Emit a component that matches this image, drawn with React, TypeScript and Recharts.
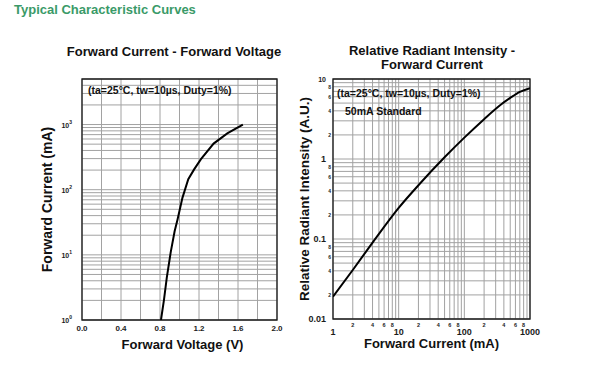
import { LineChart, Line, XAxis, YAxis, CartesianGrid, ReferenceArea } from 'recharts';

const FONT = '"Liberation Sans", Arial, Helvetica, sans-serif';

// Forward Current - Forward Voltage
const fvVoltage = [0.81, 0.84, 0.87, 0.91, 0.95, 0.98, 1.03, 1.09, 1.15, 1.22, 1.35, 1.49, 1.65];
const fvCurrent = [1, 2, 4.5, 11, 23, 35, 75, 145, 205, 295, 510, 730, 1000];
const fvXTicks = [0, 0.2, 0.4, 0.6, 0.8, 1.0, 1.2, 1.4, 1.6, 1.8, 2.0];
const fvYTicks = [
  1, 2, 3, 4, 5, 6, 7, 8, 9,
  10, 20, 30, 40, 50, 60, 70, 80, 90,
  100, 200, 300, 400, 500, 600, 700, 800, 900,
  1000, 2000, 3000, 4000, 5000,
];

// Relative Radiant Intensity - Forward Current
const riCurrent = [1, 2, 4, 10, 20, 50, 100, 200, 350, 500, 700, 1000];
const riIntensity = [0.019, 0.041, 0.09, 0.245, 0.47, 1.05, 1.85, 3.15, 4.7, 5.8, 6.9, 7.7];
const riXTicks = [
  1, 2, 3, 4, 5, 6, 7, 8, 9,
  10, 20, 30, 40, 50, 60, 70, 80, 90,
  100, 200, 300, 400, 500, 600, 700, 800, 900,
  1000,
];
const riYTicks = [
  0.01, 0.02, 0.03, 0.04, 0.05, 0.06, 0.07, 0.08, 0.09,
  0.1, 0.2, 0.3, 0.4, 0.5, 0.6, 0.7, 0.8, 0.9,
  1, 2, 3, 4, 5, 6, 7, 8, 9,
  10,
];

const fvData = fvVoltage.map((v, i) => ({ v, i: fvCurrent[i] }));
const riData = riCurrent.map((c, i) => ({ c, r: riIntensity[i] }));

const GRID = '#a2a2a2';
const INK = '#1b1b1b';

function mantissa(v: number) {
  const p = Math.pow(10, Math.floor(Math.log10(v) + 1e-9));
  return Math.round(v / p);
}

function FvXTick({ x, y, payload }: any) {
  const v = payload.value;
  const k = v / 0.4;
  if (Math.abs(k - Math.round(k)) > 1e-6) return <g />;
  return (
    <text x={x} y={y + 11} textAnchor="middle" fontSize={8} fontWeight="bold" fill={INK} fontFamily={FONT}>
      {v.toFixed(1)}
    </text>
  );
}

function FvYTick({ x, y, payload }: any) {
  const v = payload.value;
  if (mantissa(v) !== 1) return <g />;
  const exp = Math.round(Math.log10(v));
  return (
    <text x={x - 10} y={y + 3} textAnchor="end" fontSize={7} fontWeight="bold" fill={INK} fontFamily={FONT}>
      10
      <tspan dy={-4} fontSize={5}>{exp}</tspan>
    </text>
  );
}

function RiXTick({ x, y, payload }: any) {
  const v = payload.value;
  const m = mantissa(v);
  if (m === 1) {
    return (
      <text x={x} y={y + 16} textAnchor="middle" fontSize={9} fontWeight="bold" fill={INK} fontFamily={FONT}>
        {v}
      </text>
    );
  }
  if (m % 2 !== 0) return <g />;
  return (
    <text x={x} y={y + 8} textAnchor="middle" fontSize={5.5} fontWeight="bold" fill={INK} fontFamily={FONT}>
      {m}
    </text>
  );
}

function RiYTick({ x, y, payload }: any) {
  const v = payload.value;
  const m = mantissa(v);
  if (m === 1) {
    const label = v >= 1 ? String(Math.round(v)) : String(v);
    return (
      <text x={x - 7} y={y + 3} textAnchor="end" fontSize={v === 10 ? 7 : 9} fontWeight="bold" fill={INK} fontFamily={FONT}>
        {label}
      </text>
    );
  }
  if (m % 2 !== 0) return <g />;
  return (
    <text x={x - 2} y={y + 2} textAnchor="end" fontSize={5} fontWeight="bold" fill={INK} fontFamily={FONT}>
      {m}
    </text>
  );
}

const titleStyle: React.CSSProperties = {
  position: 'absolute',
  fontSize: 13,
  fontWeight: 'bold',
  color: '#111',
  textAlign: 'center',
  lineHeight: '14px',
  whiteSpace: 'nowrap',
};

const noteStyle: React.CSSProperties = {
  position: 'absolute',
  fontSize: 10.5,
  fontWeight: 'bold',
  color: '#111',
  whiteSpace: 'nowrap',
  lineHeight: '12px',
};

export default function App() {
  return (
    <div style={{ position: 'absolute', left: 0, top: 0, width: 610, height: 389, background: '#fff', fontFamily: FONT }}>
      <div style={{ position: 'absolute', left: 14, top: 2, fontSize: 13, fontWeight: 'bold', color: '#3a9a68' }}>
        Typical Characteristic Curves
      </div>

      <div style={{ ...titleStyle, left: 0, width: 348, top: 45 }}>Forward Current - Forward Voltage</div>
      <div style={{ ...titleStyle, left: 332, width: 200, top: 44 }}>
        Relative Radiant Intensity -<br />Forward Current
      </div>

      <LineChart
        width={300}
        height={389}
        data={fvData}
        margin={{ top: 79, right: 23, bottom: 39, left: 40 }}
        style={{ position: 'absolute', left: 0, top: 0 }}
      >
        <CartesianGrid stroke={GRID} strokeWidth={1} />
        <XAxis
          dataKey="v"
          type="number"
          domain={[0, 2]}
          ticks={fvXTicks}
          interval={0}
          height={30}
          axisLine={false}
          tickLine={false}
          tickSize={0}
          tickMargin={0}
          tick={<FvXTick />}
          label={{ value: 'Forward Voltage (V)', position: 'insideBottom', offset: 1, dx: 3, fontSize: 13, fontWeight: 'bold', fill: '#111' }}
        />
        <YAxis
          dataKey="i"
          type="number"
          scale="log"
          domain={[1, 5000]}
          allowDataOverflow
          ticks={fvYTicks}
          interval={0}
          width={42}
          axisLine={false}
          tickLine={false}
          tickSize={0}
          tickMargin={0}
          tick={<FvYTick />}
          label={{ value: 'Forward Current (mA)', angle: -90, position: 'insideLeft', offset: 7, fontSize: 14, fontWeight: 'bold', fill: '#111', style: { textAnchor: 'middle' } }}
        />
        <ReferenceArea x1={0} x2={2} y1={1} y2={5000} fill="none" stroke={INK} strokeWidth={1.3} />
        <Line type="linear" dataKey="i" stroke="#000" strokeWidth={2} dot={false} isAnimationActive={false} />
      </LineChart>

      <LineChart
        width={320}
        height={389}
        data={riData}
        margin={{ top: 79, right: 80, bottom: 40, left: 5 }}
        style={{ position: 'absolute', left: 290, top: 0 }}
      >
        <CartesianGrid stroke={GRID} strokeWidth={1} />
        <XAxis
          dataKey="c"
          type="number"
          scale="log"
          domain={[1, 1000]}
          allowDataOverflow
          ticks={riXTicks}
          interval={0}
          height={30}
          axisLine={false}
          tickLine={false}
          tickSize={0}
          tickMargin={0}
          tick={<RiXTick />}
          label={{ value: 'Forward Current (mA)', position: 'insideBottom', offset: 1, fontSize: 13, fontWeight: 'bold', fill: '#111' }}
        />
        <YAxis
          dataKey="r"
          type="number"
          scale="log"
          domain={[0.01, 10]}
          allowDataOverflow
          ticks={riYTicks}
          interval={0}
          width={38}
          axisLine={false}
          tickLine={false}
          tickSize={0}
          tickMargin={0}
          tick={<RiYTick />}
          label={{ value: 'Relative Radiant Intensity (A.U.)', angle: -90, position: 'insideLeft', offset: 9, fontSize: 13.5, fontWeight: 'bold', fill: '#111', style: { textAnchor: 'middle' } }}
        />
        <ReferenceArea x1={1} x2={1000} y1={0.01} y2={10} fill="none" stroke={INK} strokeWidth={1.3} />
        <Line type="monotone" dataKey="r" stroke="#000" strokeWidth={2} dot={false} isAnimationActive={false} />
      </LineChart>

      <div style={{ ...noteStyle, left: 88, top: 84 }}>(ta=25°C, tw=10µs, Duty=1%)</div>
      <div style={{ ...noteStyle, left: 337, top: 87 }}>(ta=25°C, tw=10µs, Duty=1%)</div>
      <div style={{ ...noteStyle, left: 345, top: 105 }}>50mA Standard</div>
    </div>
  );
}
